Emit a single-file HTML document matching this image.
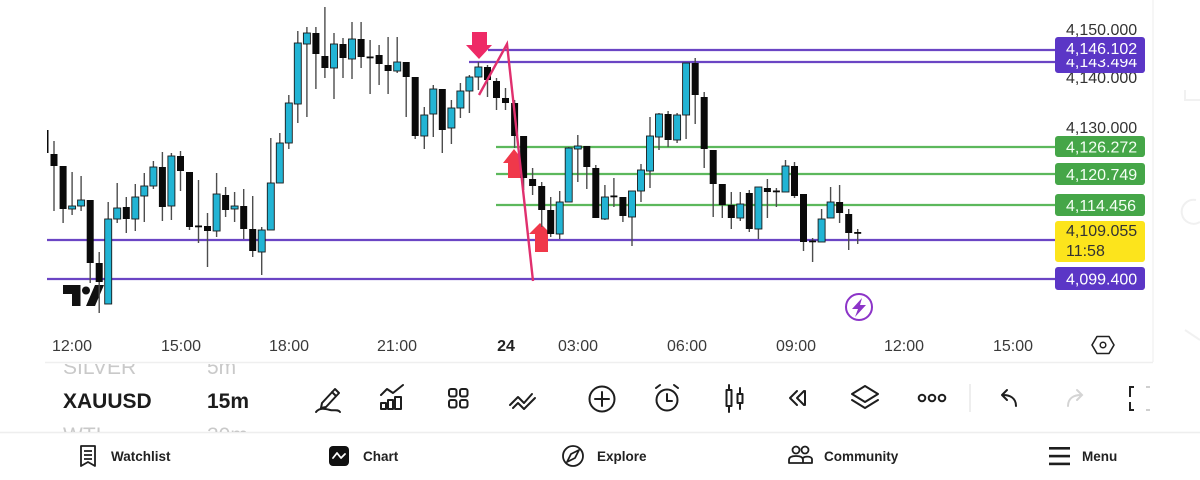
<!DOCTYPE html>
<html><head><meta charset="utf-8"><style>
html,body{margin:0;padding:0;background:#fff;}
body{width:1200px;height:480px;overflow:hidden;font-family:"Liberation Sans",sans-serif;}
svg{display:block}
</style></head><body>
<svg width="1200" height="480" viewBox="0 0 1200 480" xmlns="http://www.w3.org/2000/svg" font-family="Liberation Sans, sans-serif">
<defs>
<clipPath id="chartClip"><rect x="47" y="0" width="1008" height="330"/></clipPath>
<clipPath id="tbClip"><rect x="0" y="364" width="300" height="68"/></clipPath>
</defs>
<rect width="1200" height="480" fill="#fff"/>

<line x1="1153" y1="0" x2="1153" y2="362" stroke="#ededed" stroke-width="1"/>
<line x1="45" y1="362.5" x2="1153" y2="362.5" stroke="#efefef" stroke-width="1.5"/>
<line x1="0" y1="432.5" x2="1200" y2="432.5" stroke="#eeeeee" stroke-width="1.5"/>

<path d="M1185 90 v10 h15" fill="none" stroke="#f1f1f1" stroke-width="2"/>
<path d="M1196 200 a12 12 0 1 0 4 22" fill="none" stroke="#f0f0f0" stroke-width="2"/>
<path d="M1185 330 l15 10" fill="none" stroke="#f1f1f1" stroke-width="2"/>

<g stroke-width="2.2">
<line x1="488" y1="50" x2="1055" y2="50" stroke="#6b45c4"/>
<line x1="469" y1="62" x2="1055" y2="62" stroke="#6b45c4"/>
<line x1="496" y1="147" x2="1055" y2="147" stroke="#5cb85c"/>
<line x1="496" y1="174" x2="1055" y2="174" stroke="#5cb85c"/>
<line x1="496" y1="205" x2="1055" y2="205" stroke="#5cb85c"/>
<line x1="47" y1="240" x2="1055" y2="240" stroke="#6b45c4"/>
<line x1="47" y1="279" x2="1055" y2="279" stroke="#6b45c4"/>
</g>

<g fill="#111">
<rect x="63" y="285" width="17" height="9"/>
<rect x="72" y="285" width="8.5" height="21"/>
<circle cx="86" cy="290.5" r="4"/>
<polygon points="95,285 104,285 95,306 86,306"/>
</g>

<g fill="#f0384a">
<polygon points="514,149 525,163 520,163 520,178 508,178 508,163 503,163"/>
<polygon points="540,223 551,234 548,234 548,252 535,252 535,234 529,234"/>
</g>

<g clip-path="url(#chartClip)">
<path fill="none" stroke="#4d4d4d" stroke-width="1.4" d="M54 141V211 M63.1 166V223 M90.2 200V283 M99.2 252V313 M126.3 197V233 M162.4 152V221 M180.5 151V191 M189.5 172V230 M198.5 180V243 M207.5 213V267 M225.6 187V217 M243.7 189V239 M252.7 196V257 M315.9 27V89 M324.9 7V78 M343 38V78 M361.1 22V68 M370.1 40V94 M379.1 45V85 M388.1 37V94 M406.2 62V117 M415.2 77V139 M442.3 89V153 M487.5 65V97 M496.5 78V110 M505.5 88V110 M514.6 100V148 M523.6 136V190 M532.6 168V195 M541.7 182V227 M550.7 197V237 M586.8 146V189 M595.8 165V218 M613.9 178V207 M622.9 197V222 M668.1 111V147 M695.2 58V124 M704.2 92V168 M713.2 150V217 M722.3 184V218 M731.3 192V229 M749.3 190V232 M767.4 179V218 M776.4 188V207 M794.5 162V198 M803.5 194V251 M812.6 238V262 M839.6 185V223 M848.7 209V250 M857.7 229V244 M72.1 172V215 M81.1 176V211 M108.2 202V304 M117.2 183V223 M135.3 184V231 M144.3 173V222 M153.4 161V189 M171.4 153V220 M216.6 173V237 M234.6 192V222 M261.7 227V275 M270.8 138V230 M279.8 133V183 M288.8 95V149 M297.8 31V123 M306.9 27V117 M334 33V99 M352 22V79 M397.2 37V73 M424.3 107V149 M433.3 85V137 M451.4 100V144 M460.4 83V118 M469.4 75V113 M478.4 62V90 M559.7 191V239 M568.7 147V202 M577.8 135V182 M604.9 185V220 M632 191V246 M641 164V202 M650 117V188 M659 113V150 M677.1 113V143 M686.1 63V139 M740.3 192V221 M758.4 187V239 M785.5 160V192 M821.6 209V242 M830.6 187V218"/>
<g fill="#0a0a0a">
<rect x="41.5" y="130" width="7" height="23"/>
<rect x="50.5" y="154" width="7" height="12"/>
<rect x="59.6" y="166" width="7" height="43"/>
<rect x="86.7" y="200" width="7" height="63"/>
<rect x="95.7" y="263" width="7" height="19"/>
<rect x="122.8" y="207" width="7" height="12"/>
<rect x="158.9" y="167" width="7" height="40"/>
<rect x="177" y="156" width="7" height="15"/>
<rect x="186" y="172" width="7" height="55"/>
<rect x="195" y="225.5" width="7" height="1.8"/>
<rect x="204" y="226" width="7" height="5"/>
<rect x="222.1" y="195" width="7" height="15"/>
<rect x="240.2" y="206" width="7" height="23"/>
<rect x="249.2" y="229" width="7" height="22"/>
<rect x="312.4" y="33" width="7" height="21"/>
<rect x="321.4" y="56" width="7" height="12"/>
<rect x="339.5" y="44" width="7" height="14"/>
<rect x="357.6" y="39" width="7" height="18"/>
<rect x="366.6" y="56.5" width="7" height="1.8"/>
<rect x="375.6" y="55" width="7" height="9"/>
<rect x="384.6" y="65" width="7" height="6"/>
<rect x="402.7" y="62" width="7" height="15"/>
<rect x="411.7" y="77" width="7" height="59"/>
<rect x="438.8" y="89" width="7" height="41"/>
<rect x="484" y="67" width="7" height="13"/>
<rect x="493" y="81" width="7" height="17"/>
<rect x="502" y="98" width="7" height="5"/>
<rect x="511.1" y="103" width="7" height="33"/>
<rect x="520.1" y="136" width="7" height="42"/>
<rect x="529.1" y="179" width="7" height="7"/>
<rect x="538.2" y="186" width="7" height="24"/>
<rect x="547.2" y="210" width="7" height="24"/>
<rect x="583.3" y="146" width="7" height="21"/>
<rect x="592.3" y="168" width="7" height="50"/>
<rect x="610.4" y="195.5" width="7" height="1.8"/>
<rect x="619.4" y="197" width="7" height="19"/>
<rect x="664.6" y="114" width="7" height="26"/>
<rect x="691.7" y="63" width="7" height="32"/>
<rect x="700.7" y="97" width="7" height="52"/>
<rect x="709.7" y="150" width="7" height="34"/>
<rect x="718.8" y="184" width="7" height="21"/>
<rect x="727.8" y="205" width="7" height="13"/>
<rect x="745.8" y="193" width="7" height="36"/>
<rect x="763.9" y="188" width="7" height="4"/>
<rect x="772.9" y="190.5" width="7" height="1.8"/>
<rect x="791" y="166" width="7" height="30"/>
<rect x="800" y="194" width="7" height="48"/>
<rect x="809.1" y="240.5" width="7" height="1.8"/>
<rect x="836.1" y="202" width="7" height="11"/>
<rect x="845.2" y="214" width="7" height="19"/>
<rect x="854.2" y="232" width="7" height="1.8"/>
</g>
<g fill="#22b4d4" stroke="#1a1a1a" stroke-width="0.9">
<rect x="68.6" y="206" width="7" height="3"/>
<rect x="77.6" y="200" width="7" height="6"/>
<rect x="104.7" y="219" width="7" height="85"/>
<rect x="113.7" y="208" width="7" height="11"/>
<rect x="131.8" y="197" width="7" height="22"/>
<rect x="140.8" y="186" width="7" height="10"/>
<rect x="149.9" y="167" width="7" height="19"/>
<rect x="167.9" y="156" width="7" height="50"/>
<rect x="213.1" y="194" width="7" height="37"/>
<rect x="231.1" y="206" width="7" height="3"/>
<rect x="258.2" y="230" width="7" height="22"/>
<rect x="267.3" y="183" width="7" height="47"/>
<rect x="276.3" y="143" width="7" height="40"/>
<rect x="285.3" y="103" width="7" height="40"/>
<rect x="294.3" y="43" width="7" height="61"/>
<rect x="303.4" y="33" width="7" height="11"/>
<rect x="330.5" y="44" width="7" height="24"/>
<rect x="348.5" y="39" width="7" height="20"/>
<rect x="393.7" y="62" width="7" height="9"/>
<rect x="420.8" y="115" width="7" height="21"/>
<rect x="429.8" y="89" width="7" height="25"/>
<rect x="447.9" y="108" width="7" height="20"/>
<rect x="456.9" y="91" width="7" height="17"/>
<rect x="465.9" y="77" width="7" height="14"/>
<rect x="474.9" y="67" width="7" height="10"/>
<rect x="556.2" y="202" width="7" height="32"/>
<rect x="565.2" y="148" width="7" height="54"/>
<rect x="574.3" y="146" width="7" height="3"/>
<rect x="601.4" y="197" width="7" height="22"/>
<rect x="628.5" y="191" width="7" height="26"/>
<rect x="637.5" y="170" width="7" height="21"/>
<rect x="646.5" y="136" width="7" height="35"/>
<rect x="655.5" y="114" width="7" height="23"/>
<rect x="673.6" y="115" width="7" height="25"/>
<rect x="682.6" y="63" width="7" height="52"/>
<rect x="736.8" y="204" width="7" height="14"/>
<rect x="754.9" y="187" width="7" height="42"/>
<rect x="782" y="166" width="7" height="26"/>
<rect x="818.1" y="219" width="7" height="23"/>
<rect x="827.1" y="202" width="7" height="16"/>
</g>
</g>

<polyline points="479,95 507,44 533,281" fill="none" stroke="#e0306e" stroke-width="2.4"/>
<polygon points="472,32 487,32 487,45 492,45 479,59 466,45 472,45" fill="#ee2a66"/>

<circle cx="859" cy="307" r="13" fill="#fff" stroke="#8c34c8" stroke-width="2"/>
<polygon points="862,298 852,309 858,309 855,317 866,305 860,305" fill="#8c34c8"/>

<g font-size="16" fill="#333">
<text x="1066" y="35">4,150.000</text>
<text x="1066" y="83">4,140.000</text>
<text x="1066" y="133">4,130.000</text>
</g>
<rect x="1055" y="51" width="90" height="22" rx="3" fill="#5b36c6"/>
<text x="1066" y="67" font-size="16" fill="#fff">4,143.494</text>
<rect x="1055" y="37" width="90" height="22" rx="3" fill="#5b36c6"/>
<text x="1066" y="54" font-size="16" fill="#fff">4,146.102</text>
<rect x="1055" y="136" width="90" height="21" rx="3" fill="#45a648"/>
<text x="1066" y="152.5" font-size="16" fill="#f4fff4">4,126.272</text>
<rect x="1055" y="163" width="90" height="22" rx="3" fill="#45a648"/>
<text x="1066" y="180" font-size="16" fill="#f4fff4">4,120.749</text>
<rect x="1055" y="194" width="90" height="22" rx="3" fill="#45a648"/>
<text x="1066" y="211" font-size="16" fill="#f4fff4">4,114.456</text>
<rect x="1055" y="221" width="90" height="41" rx="3" fill="#fce41c"/>
<text x="1066" y="236" font-size="16" fill="#333">4,109.055</text>
<text x="1066" y="256" font-size="16" fill="#333">11:58</text>
<rect x="1055" y="267" width="90" height="23" rx="3" fill="#5b36c6"/>
<text x="1066" y="284.5" font-size="16" fill="#fff">4,099.400</text>

<g font-size="16" fill="#3a3a3a" text-anchor="middle">
<text x="72" y="351">12:00</text>
<text x="181" y="351">15:00</text>
<text x="289" y="351">18:00</text>
<text x="397" y="351">21:00</text>
<text x="506" y="351" font-weight="bold" fill="#222">24</text>
<text x="578" y="351">03:00</text>
<text x="687" y="351">06:00</text>
<text x="796" y="351">09:00</text>
<text x="904" y="351">12:00</text>
<text x="1013" y="351">15:00</text>
</g>
<polygon points="1097,336.5 1109,336.5 1114,345 1109,353.5 1097,353.5 1092,345" fill="none" stroke="#222" stroke-width="1.6" stroke-linejoin="round"/>
<circle cx="1103" cy="345" r="2.8" fill="none" stroke="#222" stroke-width="1.5"/>

<g clip-path="url(#tbClip)" font-size="21">
<text x="63" y="374" fill="#c9c9c9">SILVER</text>
<text x="207" y="374" fill="#c9c9c9">5m</text>
<text x="63" y="408" fill="#1c1c1c" font-weight="bold">XAUUSD</text>
<text x="207" y="408" fill="#1c1c1c" font-weight="bold">15m</text>
<text x="63" y="442" fill="#c9c9c9">WTI</text>
<text x="207" y="442" fill="#c9c9c9">30m</text>
</g>

<g fill="none" stroke="#1e1e1e" stroke-width="2" stroke-linecap="round" stroke-linejoin="round">
<path d="M322 403 L335 389 L339 393 L326 407 L321 408 Z M332 392 L336 396"/>
<path d="M316 412 C320 407 326 409 330 410 C334 411 338 409 340 412"/>
<path d="M381 395 L387 389 L393 393 L403 385"/>
<rect x="381" y="403" width="5" height="6"/><rect x="388" y="400" width="5" height="9"/><rect x="395" y="397" width="6" height="12"/>
<rect x="449" y="389" width="7.5" height="7.5" rx="2"/><rect x="460" y="389" width="7.5" height="7.5" rx="2"/>
<rect x="449" y="400" width="7.5" height="7.5" rx="2"/><rect x="460" y="400" width="7.5" height="7.5" rx="2"/>
<path d="M510 405 L518 397 L524 403 L532 394 M513 408 L518 403 L524 409 L535 398"/>
<circle cx="602" cy="399" r="12.5"/><path d="M602 392 V406 M595 399 H609"/>
<circle cx="667" cy="400" r="10.5"/><path d="M667 394 V401 H672 M656 388 L660 385 M678 388 L674 385"/>
<path d="M729 385 V412 M740 388 V409"/><rect x="726.5" y="390" width="5" height="16" fill="#fff"/><rect x="737.5" y="394" width="5" height="9" fill="#fff"/>
<path d="M797 391 L790 398 L797 405 M804 391 L797 398 L804 405 M805 391 V405"/>
<path d="M865 386 L878 394 L865 402 L852 394 Z M852 400 L865 408 L878 400"/>
<circle cx="922" cy="398" r="3.3"/><circle cx="932" cy="398" r="3.3"/><circle cx="942" cy="398" r="3.3"/>
<path d="M1016 406 C1016 398 1010 395 1003 395 M1007 390 L1002 395 L1007 400"/>
</g>
<line x1="970" y1="384" x2="970" y2="412" stroke="#e8e8e8" stroke-width="1.5"/>
<path d="M1068 406 C1068 398 1074 395 1081 395 M1077 390 L1082 395 L1077 400" fill="none" stroke="#d4d4d4" stroke-width="2" stroke-linecap="round"/>
<path d="M1134 387 H1130 V397 M1130 402 V410 H1134" fill="none" stroke="#222" stroke-width="2"/>
<path d="M1146 387 H1150 M1150 410 H1146" fill="none" stroke="#cfcfcf" stroke-width="2"/>

<g fill="none" stroke="#1e1e1e" stroke-width="1.8" stroke-linejoin="round">
<path d="M81 446 H95 V466 L88 462 L81 466 Z"/>
<path d="M84 451 H92 M84 455 H92 M84 459 H92"/>
<circle cx="573" cy="456" r="10"/>
<path d="M579 450 L575 458 L567 462 L571 454 Z"/>
<circle cx="796" cy="450" r="3.5"/><circle cx="805" cy="450" r="3.5"/>
<path d="M789 463 V460 C789 457 792 456 796 456 C800 456 803 457 803 460 V463 Z M803 458 C805 456 811 456 812 459 V463 H803"/>
</g>
<rect x="329" y="446" width="20" height="20" rx="4" fill="#111"/>
<path d="M333 458 L337 453 L341 458 L345 454" fill="none" stroke="#fff" stroke-width="1.8" stroke-linecap="round" stroke-linejoin="round"/>
<g fill="#1e1e1e">
<rect x="1049" y="447" width="21" height="2.6"/><rect x="1049" y="454.8" width="21" height="2.6"/><rect x="1049" y="462.6" width="21" height="2.6"/>
</g>
<g font-size="13.5" font-weight="bold" fill="#222">
<text x="111" y="461">Watchlist</text>
<text x="363" y="461">Chart</text>
<text x="597" y="461">Explore</text>
<text x="824" y="461">Community</text>
<text x="1082" y="461">Menu</text>
</g>
</svg>
</body></html>
